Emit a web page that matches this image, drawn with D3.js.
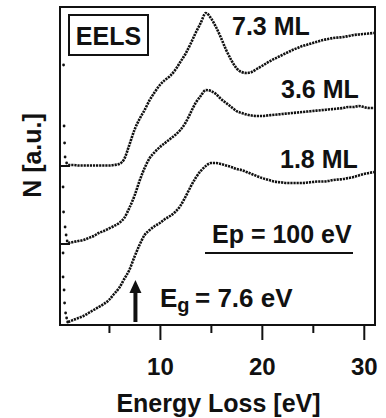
<!DOCTYPE html>
<html>
<head>
<meta charset="utf-8">
<script src="https://cdn.jsdelivr.net/npm/d3@7"></script>
<style>
  body { margin: 0; background: #fff; }
  svg { font-family: "Liberation Sans", Arial, sans-serif; font-weight: bold; }
</style>
</head>
<body>
<div id="chart"></div>
<script>
// energy grid (eV) shared by the three spectra
const energies = [1, 1.5, 2, 2.5, 3, 3.5, 4, 4.5, 5, 5.5, 6, 6.5, 7, 7.5, 8, 8.5, 9, 9.5, 10,
  10.5, 11, 11.5, 12, 12.5, 13, 13.5, 14, 14.5, 15, 15.5, 16, 16.5, 17, 17.5, 18, 18.5, 19,
  19.5, 20, 20.5, 21, 21.5, 22, 22.5, 23, 23.5, 24, 24.5, 25, 25.5, 26, 26.5, 27, 27.5, 28,
  28.5, 29, 29.5, 30, 30.5, 31];

// intensities above each curve's own baseline (a.u.)
const n73 = [1, 1, 0.5, 0.5, 0.5, 0.5, 0.5, 0.5, 0.5, 1, 2, 7, 21, 36, 47, 56, 66, 74, 81,
  86, 90, 96, 104, 112, 122, 133, 143, 153, 148, 139, 128, 116, 106, 98, 94, 93, 94,
  97, 100, 103, 106, 108.5, 111, 113.5, 116, 118, 120, 121.5, 123, 124.5, 126, 127, 128, 128.5, 129,
  130, 131, 131.5, 132, 132.5, 133];
const n36 = [1, 2, 3, 4, 6, 8, 11, 13, 15.5, 18, 21, 26, 36, 48, 63, 76, 86, 92, 97,
  101, 105, 109, 114, 121, 131, 141, 148, 154, 153, 150, 145, 141, 137, 133, 131, 129.5, 128.5,
  128, 128, 128.5, 129, 129.5, 130, 130.5, 131, 131.5, 132, 132.5, 133, 133.5, 134, 134.5, 135, 135.5, 136,
  137, 137, 138, 137, 136, 136];
const n18 = [3, 5, 7, 9, 12, 15, 18, 21, 25, 31, 37, 46, 55, 68, 80, 90, 95, 99, 102,
  106, 109, 113, 119, 128, 138, 147, 154, 159, 162, 162, 161, 159.5, 158, 156, 155, 153, 151,
  149, 147, 145.5, 144, 143, 142.5, 142, 142, 142, 142, 142.5, 143, 143.5, 143.5, 144, 145, 145.5, 146,
  147, 148, 149.5, 151, 152, 153];

// elastic-peak tail points near zero loss
const tail73E = [0.55, 0.6, 0.65, 0.7, 0.85];
const tail73N = [101, 40, 23, 9, 3];
const tail36E = [0.5, 0.55, 0.7, 0.8, 0.9];
const tail36N = [57, 32, 17, 9, 3];
const tail18E = [0.5, 0.5, 0.6, 0.65, 0.75, 0.85, 0.95];
const tail18N = [72, 48, 35, 22, 12, 7, 3];

const labels = ['7.3 ML', '3.6 ML', '1.8 ML'];
const offsets = [159, 81, 0];
const gapEnergy = 7.6;
const majorTicks = [10, 20, 30];
const minorTicks = [5, 15, 25];

const width = 386, height = 418;
const m = { left: 60, right: 375, top: 7, bottom: 325 };

const svg = d3.select('#chart').append('svg')
  .attr('width', width)
  .attr('height', height);

const x = d3.scaleLinear().domain([0.2, 31.1]).range([m.left, m.right]);
const y = d3.scaleLinear().domain([0, 318]).range([m.bottom, m.top]);

const series = [
  { label: labels[0], off: offsets[0], n: n73, tE: tail73E, tN: tail73N },
  { label: labels[1], off: offsets[1], n: n36, tE: tail36E, tN: tail36N },
  { label: labels[2], off: offsets[2], n: n18, tE: tail18E, tN: tail18N },
];

// frame
svg.append('rect')
  .attr('x', m.left).attr('y', m.top)
  .attr('width', m.right - m.left).attr('height', m.bottom - m.top)
  .attr('fill', 'none').attr('stroke', '#111').attr('stroke-width', 2);

// x axis: long ticks with labels, short ticks without
const xMajor = svg.append('g')
  .attr('transform', `translate(0,${m.bottom})`)
  .call(d3.axisBottom(x).tickValues(majorTicks).tickSize(15).tickFormat(d3.format('d')));
const xMinor = svg.append('g')
  .attr('transform', `translate(0,${m.bottom})`)
  .call(d3.axisBottom(x).tickValues(minorTicks).tickSize(8).tickFormat(''));
[xMajor, xMinor].forEach(g => {
  g.select('.domain').remove();
  g.selectAll('line').attr('stroke', '#111').attr('stroke-width', 2);
});
xMajor.selectAll('text')
  .attr('y', 50).attr('dy', 0)
  .attr('fill', '#111')
  .style('font-size', '24px')
  .style('font-family', '"Liberation Sans", Arial, sans-serif')
  .style('font-weight', 'bold');

// baseline markers of the offset spectra
svg.selectAll('line.base')
  .data(offsets.filter(o => o > 0))
  .join('line')
  .attr('class', 'base')
  .attr('x1', m.left).attr('x2', m.left + 10)
  .attr('y1', d => y(d)).attr('y2', d => y(d))
  .attr('stroke', '#111').attr('stroke-width', 2);

// spectra
const line = d3.line()
  .x(d => x(d[0]))
  .y(d => y(d[1]))
  .curve(d3.curveMonotoneX);

series.forEach(s => {
  const pts = energies.map((e, i) => [e, s.n[i] + s.off]);
  svg.append('path')
    .attr('d', line(pts))
    .attr('fill', 'none')
    .attr('stroke', '#111')
    .attr('stroke-width', 2.6)
    .attr('stroke-dasharray', '2.2 0.9');
  svg.append('g').selectAll('circle')
    .data(s.tE.map((e, i) => [e, s.tN[i] + s.off]))
    .join('circle')
    .attr('cx', d => x(d[0]))
    .attr('cy', d => y(d[1]))
    .attr('r', 1.4)
    .attr('fill', '#111');
});

// texts
const big = '25px';
svg.append('text')
  .attr('x', 232).attr('y', 35)
  .style('font-size', big).attr('fill', '#111')
  .text(labels[0]);
svg.append('text')
  .attr('x', 281).attr('y', 98)
  .style('font-size', big).attr('fill', '#111')
  .text(labels[1]);
svg.append('text')
  .attr('x', 280).attr('y', 168)
  .style('font-size', big).attr('fill', '#111')
  .text(labels[2]);

// EELS box
svg.append('rect')
  .attr('x', 69).attr('y', 15).attr('width', 79).attr('height', 40)
  .attr('fill', 'none').attr('stroke', '#111').attr('stroke-width', 2);
svg.append('text')
  .attr('x', 108.5).attr('y', 45)
  .attr('text-anchor', 'middle')
  .style('font-size', big).attr('fill', '#111')
  .text('EELS');

// Ep label with underline
svg.append('text')
  .attr('x', 212).attr('y', 243)
  .style('font-size', big).attr('fill', '#111')
  .text('Ep = 100 eV');
svg.append('line')
  .attr('x1', 205).attr('x2', 353).attr('y1', 253).attr('y2', 253)
  .attr('stroke', '#111').attr('stroke-width', 2);

// band gap arrow and label
const ax = x(gapEnergy);
svg.append('line')
  .attr('x1', ax).attr('x2', ax).attr('y1', 322).attr('y2', 290)
  .attr('stroke', '#111').attr('stroke-width', 4);
svg.append('path')
  .attr('d', `M${ax},280 L${ax - 6},293 L${ax + 6},293 Z`)
  .attr('fill', '#111');

const eg = svg.append('text')
  .attr('x', 160).attr('y', 307)
  .style('font-size', '26px').attr('fill', '#111');
eg.append('tspan').text('E');
eg.append('tspan').attr('dy', 5).style('font-size', '20px').text('g');
eg.append('tspan').attr('x', 195).attr('dy', -5).text('= ' + gapEnergy + ' eV');

// axis titles
svg.append('text')
  .attr('x', 218.5).attr('y', 412)
  .attr('text-anchor', 'middle')
  .style('font-size', big).attr('fill', '#111')
  .text('Energy Loss [eV]');
svg.append('text')
  .attr('transform', 'translate(41,155.5) rotate(-90)')
  .attr('text-anchor', 'middle')
  .style('font-size', big).attr('fill', '#111')
  .text('N [a.u.]');
</script>
</body>
</html>
